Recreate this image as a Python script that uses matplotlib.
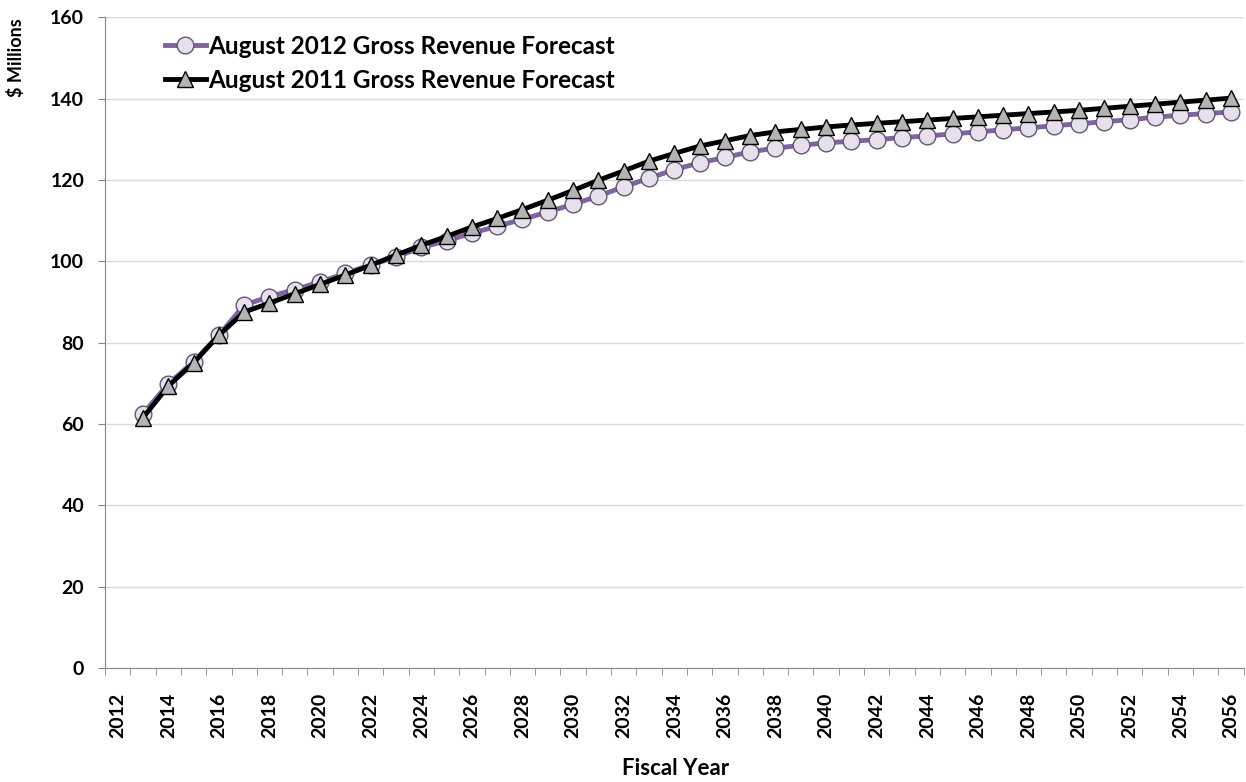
import matplotlib
matplotlib.use("Agg")
import matplotlib.pyplot as plt
import numpy as np

plt.rcParams['font.family'] = ['Lato', 'DejaVu Sans']
plt.rcParams['font.weight'] = 'bold'

# anos fiscais do eixo (categorias)
years = list(range(2012, 2057))
data_years = list(range(2013, 2057))

# previsao de agosto 2012 (circulos)
forecast_2012 = [62.5, 69.8, 75.3, 81.8, 89.2, 91.3, 93.0, 94.9, 97.0, 99.1,
                 101.0, 103.4, 105.0, 106.9, 108.6, 110.3, 112.1, 114.0, 116.0, 118.3,
                 120.4, 122.5, 124.2, 125.5, 126.9, 127.8, 128.5, 129.1, 129.5, 129.9,
                 130.4, 130.8, 131.3, 131.8, 132.3, 132.8, 133.3, 133.8, 134.3, 134.8,
                 135.4, 135.9, 136.3, 136.7]

# previsao de agosto 2011 (triangulos)
forecast_2011 = [61.5, 69.3, 75.0, 81.8, 87.5, 89.7, 92.0, 94.3, 96.6, 99.0,
                 101.5, 103.9, 106.1, 108.4, 110.5, 112.7, 115.0, 117.4, 119.9, 122.2,
                 124.6, 126.5, 128.3, 129.6, 130.9, 131.8, 132.4, 133.0, 133.5, 133.9,
                 134.3, 134.7, 135.1, 135.5, 135.9, 136.3, 136.7, 137.1, 137.6, 138.1,
                 138.6, 139.1, 139.6, 140.1]

fig = plt.figure(figsize=(12.46, 7.82), dpi=100)
ax = fig.add_axes([0.0843, 0.146, 0.9137, 0.832])

x = np.array([years.index(y) for y in data_years])

ax.plot(x, forecast_2012, color="#8064A2", linewidth=3.5, marker="o", markersize=12,
        markerfacecolor="#E6E0EC", markeredgecolor="#5F5870", markeredgewidth=1.0,
        label="August 2012 Gross Revenue Forecast", zorder=3)
ax.plot(x, forecast_2011, color="black", linewidth=3.5, marker="^", markersize=12,
        markerfacecolor="#B3B3B3", markeredgecolor="black", markeredgewidth=1.0,
        label="August 2011 Gross Revenue Forecast", zorder=4)

ax.set_xlim(-0.5, len(years) - 0.5)
ax.set_ylim(0, 160)
ax.set_yticks(range(0, 161, 20))
ax.grid(axis="y", color="#D9D9D9", linewidth=1)
ax.set_axisbelow(True)

# rotulos de ano a cada 2 anos, marcas entre categorias
ax.set_xticks(range(0, len(years), 2))
ax.set_xticklabels([str(y) for y in years[::2]], rotation=90, fontsize=14, fontweight="bold")
ax.set_xticks(np.arange(-0.5, len(years), 1), minor=True)
ax.tick_params(axis="x", which="major", length=0, pad=18)
ax.tick_params(axis="x", which="minor", length=5, color="#868686", direction="out")
ax.tick_params(axis="y", length=5, color="#868686", labelsize=14, pad=10)
for lbl in ax.get_yticklabels():
    lbl.set_fontweight("bold")

for side in ["top", "right"]:
    ax.spines[side].set_visible(False)
for side in ["left", "bottom"]:
    ax.spines[side].set_color("#868686")

fig.text(0.013, 0.926, "$ Millions", rotation=90, ha="center", va="center",
         fontsize=13, fontweight="bold")
fig.text(0.5425, 0.009, "Fiscal Year", ha="center", va="baseline", fontsize=16, fontweight="bold")

leg = ax.legend(loc="upper left", bbox_to_anchor=(0.0527, 0.973), frameon=False,
                fontsize=17.5, handlelength=1.67, handletextpad=0.1, labelspacing=0.46,
                borderaxespad=0, borderpad=0)
for t in leg.get_texts():
    t.set_fontweight("bold")

fig.savefig("out.png", dpi=100)
